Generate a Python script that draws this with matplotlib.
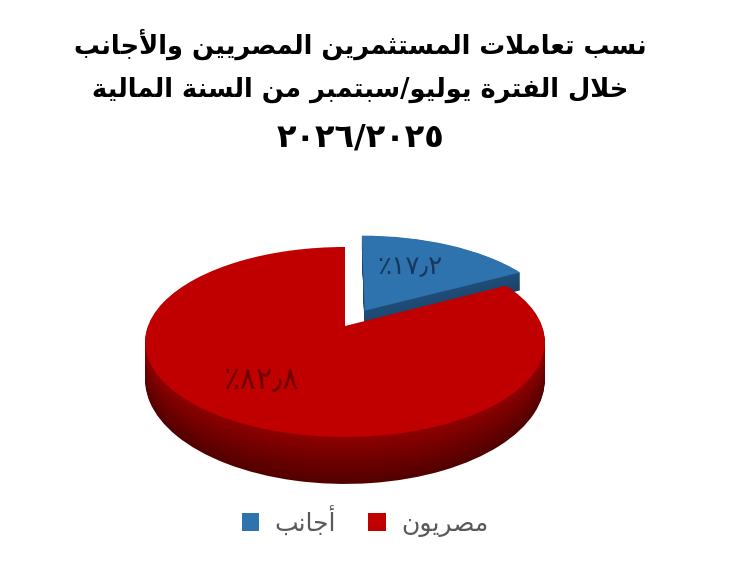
import matplotlib
matplotlib.use('Agg')
import matplotlib.pyplot as plt
import numpy as np
from matplotlib.colors import to_rgb
from matplotlib.transforms import Transform

plt.rcParams['font.family'] = ['DejaVu Sans']

# data
labels = ['أجانب', 'مصريون']
values = [17.2, 82.8]
explode = [0.2, 0]
title_lines = ['نسب تعاملات المستثمرين المصريين والأجانب',
               'خلال الفترة يوليو/سبتمبر من السنة المالية']
title_years = '٢٠٢٦/٢٠٢٥'

top_colors = ['#2E72AE', '#C00000']
side_top = ['#1F4E79', '#8E0000']
side_bottom = ['#1A4269', '#520000']

# isolated, final, initial, medial
forms = {
    'ا': (0xFE8D, 0xFE8E), 'أ': (0xFE83, 0xFE84),
    'ب': (0xFE8F, 0xFE90, 0xFE91, 0xFE92), 'ة': (0xFE93, 0xFE94),
    'ت': (0xFE95, 0xFE96, 0xFE97, 0xFE98), 'ث': (0xFE99, 0xFE9A, 0xFE9B, 0xFE9C),
    'ج': (0xFE9D, 0xFE9E, 0xFE9F, 0xFEA0), 'خ': (0xFEA5, 0xFEA6, 0xFEA7, 0xFEA8),
    'ر': (0xFEAD, 0xFEAE), 'س': (0xFEB1, 0xFEB2, 0xFEB3, 0xFEB4),
    'ص': (0xFEB9, 0xFEBA, 0xFEBB, 0xFEBC), 'ع': (0xFEC9, 0xFECA, 0xFECB, 0xFECC),
    'ف': (0xFED1, 0xFED2, 0xFED3, 0xFED4), 'ل': (0xFEDD, 0xFEDE, 0xFEDF, 0xFEE0),
    'م': (0xFEE1, 0xFEE2, 0xFEE3, 0xFEE4), 'ن': (0xFEE5, 0xFEE6, 0xFEE7, 0xFEE8),
    'و': (0xFEED, 0xFEEE), 'ي': (0xFEF1, 0xFEF2, 0xFEF3, 0xFEF4),
}
lam_alef = {'ا': (0xFEFB, 0xFEFC), 'أ': (0xFEF7, 0xFEF8)}


def shape(text):
    # matplotlib has no Arabic shaping, so pick the joined forms and reverse
    out = []
    prev_joins = False
    i = 0
    while i < len(text):
        c = text[i]
        if c not in forms:
            out.append(c)
            prev_joins = False
            i += 1
            continue
        nxt = text[i + 1] if i + 1 < len(text) else ''
        if c == 'ل' and nxt in lam_alef:
            out.append(chr(lam_alef[nxt][1 if prev_joins else 0]))
            prev_joins = False
            i += 2
            continue
        can_join = len(forms[c]) == 4
        next_ok = can_join and nxt in forms
        if prev_joins and next_ok:
            f = forms[c][3]
        elif prev_joins:
            f = forms[c][1]
        elif next_ok:
            f = forms[c][2]
        else:
            f = forms[c][0]
        out.append(chr(f))
        prev_joins = can_join
        i += 1
    return ''.join(out)[::-1]


def arabic_number(v):
    return '٪' + f'{v:.1f}'.translate(str.maketrans('0123456789.', '٠١٢٣٤٥٦٧٨٩٫'))


class DiscView(Transform):
    # unit disc seen in perspective, sink pushes it down for the pie's side
    input_dims = 2
    output_dims = 2

    def __init__(self, sink=0.0, power=1.4):
        super().__init__()
        self.sink = sink
        self.power = power

    def transform_non_affine(self, values):
        u, v = values[:, 0], values[:, 1]
        w = 1 + 0.168 * v
        x = 345 + 197 * u / w
        y = 326 - 92.3 * v / w + self.sink * (0.832 / w) ** self.power
        return np.column_stack([x, y])


fig = plt.figure(figsize=(7.41, 5.76), dpi=100)
ax = fig.add_axes([0, 0, 1, 1])

n_layers = 30
depth = 47
# back to front: blue side, red side, then both top faces
for k in range(n_layers, 0, -1):
    t = k / n_layers
    cols = []
    for a, b in zip(side_top, side_bottom):
        a, b = np.array(to_rgb(a)), np.array(to_rgb(b))
        cols.append(tuple(a + (b - a) * t))
    wedges, _ = ax.pie(values, explode=explode, colors=cols, startangle=90,
                       counterclock=False, wedgeprops={'linewidth': 0})
    wedges[0].set_transform(DiscView(depth * t, 3.4) + ax.transData)
    wedges[1].set_transform(DiscView(depth * t, 1.4) + ax.transData)
    wedges[0].set_zorder(1)
    wedges[1].set_zorder(2)

wedges, _ = ax.pie(values, explode=explode, colors=top_colors, startangle=90,
                   counterclock=False, labels=[shape(s) for s in labels],
                   labeldistance=None, wedgeprops={'linewidth': 0})
for w in wedges:
    w.set_transform(DiscView() + ax.transData)
    w.set_zorder(3)

ax.set_aspect('auto')
ax.set_xlim(0, 741)
ax.set_ylim(576, 0)
ax.axis('off')

for s, y in zip(title_lines, [44, 90]):
    ax.text(360, y, shape(s), ha='center', va='center', fontsize=18.5,
            fontweight='bold', color='black', zorder=5)
ax.text(361, 138, title_years, ha='center', va='center', fontsize=23,
        fontweight='bold', color='black', zorder=5)

ax.text(410, 267, arabic_number(values[0]), ha='center', va='center',
        fontsize=19, color='#17375E', zorder=5)
ax.text(262, 380, arabic_number(values[1]), ha='center', va='center',
        fontsize=22, color='#6E0000', zorder=5)

ax.legend(handles=wedges, loc='center', bbox_to_anchor=(365 / 741, 1 - 521 / 576),
          ncols=2, frameon=False, fontsize=18, labelcolor='#595959',
          handlelength=0.7, handleheight=0.7, handletextpad=0.6,
          columnspacing=1.3)

fig.savefig('out.png', dpi=100)
